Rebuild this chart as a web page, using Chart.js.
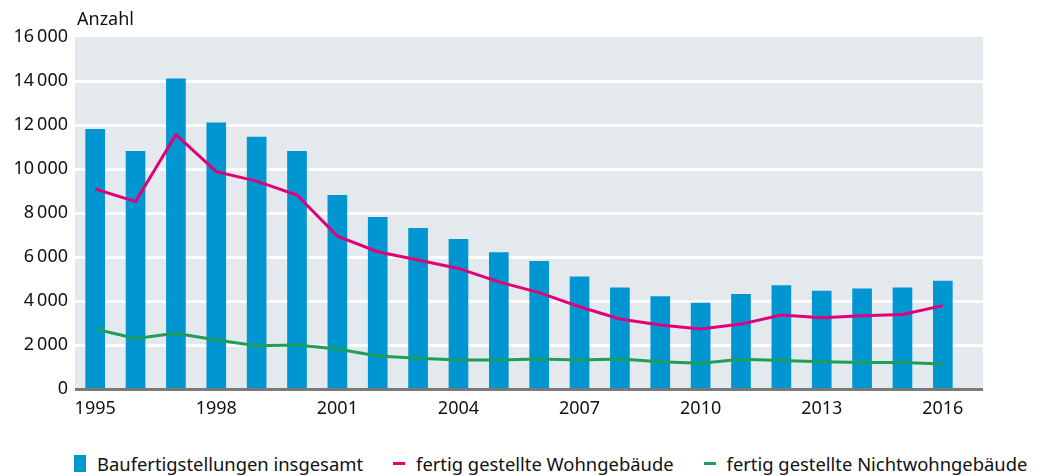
<!DOCTYPE html>
<html>
<head>
<meta charset="utf-8">
<script src="https://cdn.jsdelivr.net/npm/chart.js@4"></script>
<style>
  body { margin: 0; background: #fff; }
  #wrap { position: relative; width: 1047px; height: 476px; }
  #chart { position: absolute; left: 0; top: 0; }
  #legend { position: absolute; left: 74px; top: 451px; display: flex; align-items: center;
    font-family: "Noto Sans", sans-serif; font-size: 18.4px; color: #111; white-space: nowrap; }
  #legend span.item { display: flex; align-items: center; margin-right: 30px; }
  #legend i { display: inline-block; margin-right: 11px; }
</style>
</head>
<body>
<div id="wrap">
  <canvas id="chart" width="1047" height="440"></canvas>
  <div id="legend"></div>
</div>
<script>
const years = ['1995', '1996', '1997', '1998', '1999', '2000', '2001', '2002', '2003', '2004', '2005',
  '2006', '2007', '2008', '2009', '2010', '2011', '2012', '2013', '2014', '2015', '2016'];
const insgesamt = [11800, 10800, 14100, 12100, 11450, 10800, 8800, 7800, 7300, 6800, 6200,
  5800, 5100, 4600, 4200, 3900, 4300, 4700, 4450, 4550, 4600, 4900];
const wohngebaeude = [9090, 8520, 11560, 9880, 9450, 8820, 6950, 6240, 5860, 5480, 4870,
  4380, 3740, 3180, 2910, 2730, 2950, 3360, 3240, 3330, 3390, 3790];
const nichtwohngebaeude = [2730, 2300, 2530, 2230, 1970, 2000, 1820, 1500, 1400, 1320, 1320,
  1360, 1320, 1360, 1240, 1170, 1350, 1300, 1240, 1210, 1200, 1140];
const yTicks = [0, 2000, 4000, 6000, 8000, 10000, 12000, 14000, 16000];
const xTickLabels = ['1995', '1998', '2001', '2004', '2007', '2010', '2013', '2016'];

const blue = '#0096d1';
const pink = '#e2007a';
const green = '#1f9e5a';
const font = '"Noto Sans", sans-serif';

function fmt(v) {
  return String(v).replace(/\B(?=(\d{3})+(?!\d))/g, '\u2009');
}

// grey plot background, white grid lines, base line and "Anzahl"
const plotDeco = {
  id: 'plotDeco',
  beforeDatasetsDraw(chart) {
    const c = chart.ctx, a = chart.chartArea, y = chart.scales.y;
    const right = a.right + 20;
    c.save();
    c.fillStyle = '#e4e9ed';
    c.fillRect(a.left, a.top, right - a.left, a.bottom - a.top);
    c.strokeStyle = '#ffffff';
    c.lineWidth = 3;
    yTicks.forEach(v => {
      if (v === 0 || v === 16000) return;
      const py = Math.round(y.getPixelForValue(v)) + 0.5;
      c.beginPath(); c.moveTo(a.left, py); c.lineTo(right, py); c.stroke();
    });
    c.fillStyle = '#111';
    c.font = '18px ' + font;
    c.textBaseline = 'middle';
    c.fillText('Anzahl', a.left + 2, 20);
    c.restore();
  },
  afterDatasetsDraw(chart) {
    const c = chart.ctx, a = chart.chartArea;
    c.save();
    c.fillStyle = '#7a7a7a';
    c.fillRect(a.left, a.bottom - 1, a.right + 20 - a.left, 3);
    c.restore();
  }
};

new Chart(document.getElementById('chart'), {
  type: 'bar',
  data: {
    labels: years,
    datasets: [
      { type: 'line', label: 'fertig gestellte Wohngebäude', data: wohngebaeude,
        borderColor: pink, borderWidth: 3, pointRadius: 0, tension: 0, order: 1 },
      { type: 'line', label: 'fertig gestellte Nichtwohngebäude', data: nichtwohngebaeude,
        borderColor: green, borderWidth: 3, pointRadius: 0, tension: 0, order: 2 },
      { label: 'Baufertigstellungen insgesamt', data: insgesamt,
        backgroundColor: blue, barThickness: 19, order: 3 }
    ]
  },
  options: {
    responsive: false,
    animation: false,
    layout: { padding: { top: 37, right: 84, left: 0, bottom: 0 } },
    plugins: { legend: { display: false }, tooltip: { enabled: false } },
    scales: {
      x: {
        grid: { display: false, drawTicks: false },
        border: { display: false },
        ticks: {
          autoSkip: false, maxRotation: 0, padding: 9, color: '#111',
          font: { family: font, size: 18 },
          callback: (v, i) => xTickLabels.includes(years[i]) ? years[i] : ''
        },
        afterFit: s => { s.height = 440 - 389; }
      },
      y: {
        min: 0, max: 16000,
        grid: { display: false, drawTicks: false },
        border: { display: false },
        afterBuildTicks: s => { s.ticks = yTicks.map(v => ({ value: v })); },
        ticks: {
          padding: 7, color: '#111',
          font: { family: font, size: 18 },
          callback: v => fmt(v)
        },
        afterFit: s => { s.width = 75; }
      }
    }
  },
  plugins: [plotDeco]
});

// legend
const legendItems = [
  { label: 'Baufertigstellungen insgesamt', color: blue, w: 12, h: 17 },
  { label: 'fertig gestellte Wohngebäude', color: pink, w: 12, h: 3 },
  { label: 'fertig gestellte Nichtwohngebäude', color: green, w: 12, h: 3 }
];
document.getElementById('legend').innerHTML = legendItems.map(it =>
  '<span class="item"><i style="width:' + it.w + 'px;height:' + it.h + 'px;background:' + it.color + '"></i>' +
  it.label + '</span>').join('');
</script>
</body>
</html>
